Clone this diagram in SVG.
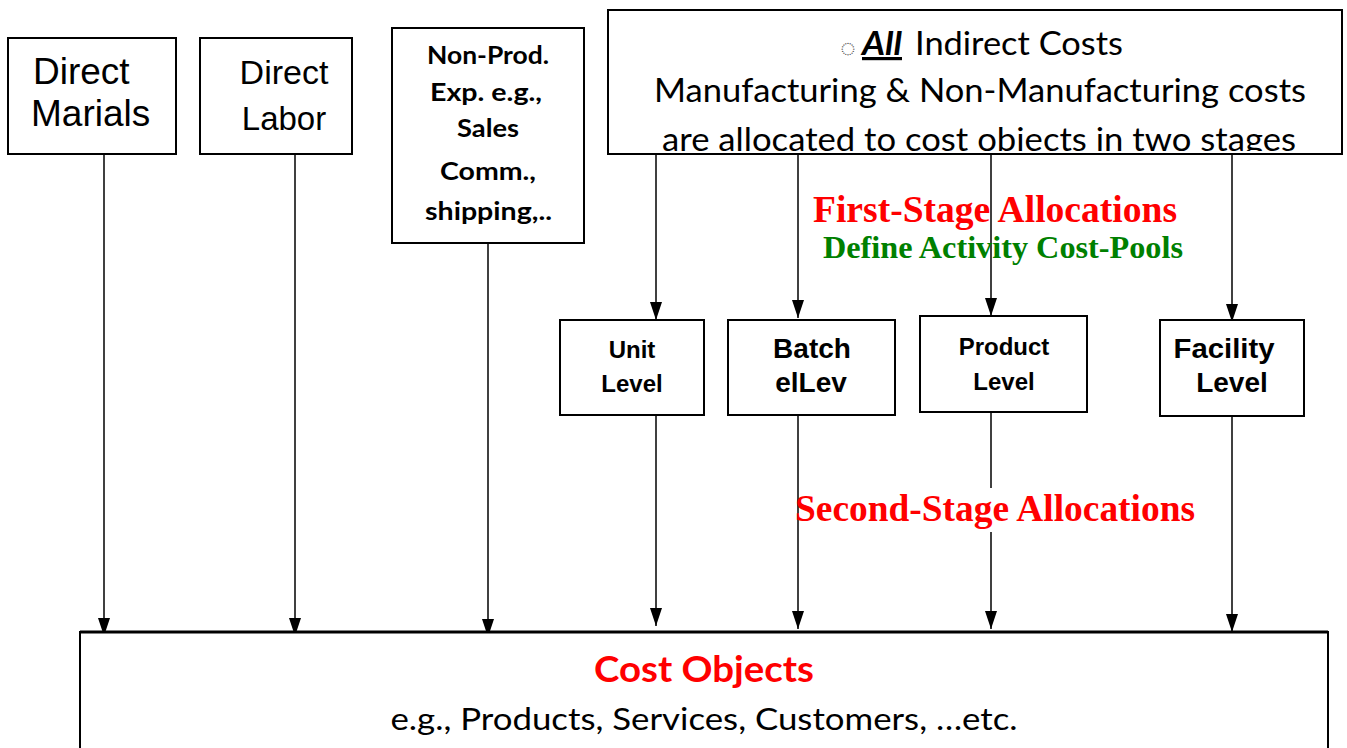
<svg xmlns="http://www.w3.org/2000/svg" width="1347" height="748" viewBox="0 0 1347 748">
<style>
.box{fill:#fff;stroke:#000;stroke-width:2}
.ar{font-family:"Liberation Sans",Arial,sans-serif}
.arb{font-family:"Liberation Sans",Arial,sans-serif;font-weight:bold}
.cal{font-family:Lato,"Open Sans",sans-serif}
.tnr{font-family:"Liberation Serif","Times New Roman",serif;font-weight:bold}
.ln{stroke:#000;stroke-width:1.5}
</style>
<defs>
<marker id="a2" markerWidth="12" markerHeight="18" refX="6" refY="18" markerUnits="userSpaceOnUse" viewBox="0 0 12 18">
<path d="M0,0 L12,0 L6,18 Z" fill="#000"/>
</marker>
<clipPath id="topclip"><rect x="608" y="10" width="734" height="141"/></clipPath>
</defs>
<rect width="1347" height="748" fill="#fff"/>

<g id="connectors">
<line class="ln" x1="104" y1="154" x2="104" y2="636" marker-end="url(#a2)"/>
<line class="ln" x1="295" y1="154" x2="295" y2="636" marker-end="url(#a2)"/>
<line class="ln" x1="488" y1="243" x2="488" y2="637" marker-end="url(#a2)"/>
<line class="ln" x1="656" y1="154" x2="656" y2="320" marker-end="url(#a2)"/>
<line class="ln" x1="798" y1="148" x2="798" y2="318" marker-end="url(#a2)"/>
<line class="ln" x1="991" y1="148" x2="991" y2="316" marker-end="url(#a2)"/>
<line class="ln" x1="1232" y1="154" x2="1232" y2="322" marker-end="url(#a2)"/>
<line class="ln" x1="656" y1="415" x2="656" y2="626" marker-end="url(#a2)"/>
<line class="ln" x1="798" y1="415" x2="798" y2="629" marker-end="url(#a2)"/>
<line class="ln" x1="991" y1="412" x2="991" y2="488"/>
<line class="ln" x1="991" y1="532" x2="991" y2="629" marker-end="url(#a2)"/>
<line class="ln" x1="1232" y1="416" x2="1232" y2="632" marker-end="url(#a2)"/>
</g>

<g id="direct-materials">
<rect class="box" x="8" y="38" width="168" height="116"/>
<text class="ar" x="33" y="84" font-size="37" fill="#000">Direct</text>
<text class="ar" x="31" y="126" font-size="37" fill="#000">Marials</text>
</g>

<g id="direct-labor">
<rect class="box" x="200" y="38" width="152" height="116"/>
<text class="ar" x="284" y="84" font-size="34" text-anchor="middle" fill="#000">Direct</text>
<text class="ar" x="284" y="130" font-size="33" text-anchor="middle" fill="#000">Labor</text>
</g>

<g id="non-prod">
<rect class="box" x="392" y="28" width="192" height="215"/>
<g class="cal" font-weight="bold" font-size="24" fill="#000">
<text x="427" y="64" textLength="122" lengthAdjust="spacingAndGlyphs">Non-Prod.</text>
<text x="430" y="101" textLength="112" lengthAdjust="spacingAndGlyphs">Exp. e.g.,</text>
<text x="457" y="137" textLength="62" lengthAdjust="spacingAndGlyphs">Sales</text>
<text x="440" y="180" textLength="96" lengthAdjust="spacingAndGlyphs">Comm.,</text>
<text x="425" y="220" textLength="127" lengthAdjust="spacingAndGlyphs">shipping,..</text>
</g>
</g>

<g id="indirect-costs">
<rect class="box" x="608" y="10" width="734" height="144"/>
<g clip-path="url(#topclip)" class="cal" font-size="32" fill="#000">
<text x="840" y="57" font-size="24" fill="#555">◌</text>
<text x="862" y="55" font-weight="bold" font-style="italic" text-decoration="underline" textLength="40" lengthAdjust="spacingAndGlyphs">All</text>
<text x="915" y="55" textLength="208" lengthAdjust="spacingAndGlyphs">Indirect Costs</text>
<text x="980" y="102" text-anchor="middle" textLength="652" lengthAdjust="spacingAndGlyphs">Manufacturing &amp; Non-Manufacturing costs</text>
<text x="979" y="151" text-anchor="middle" textLength="634" lengthAdjust="spacingAndGlyphs">are allocated to cost objects in two stages</text>
</g>
</g>

<g id="first-stage-label">
<text class="tnr" x="995" y="222" font-size="37" fill="#ff0000" text-anchor="middle" textLength="364" lengthAdjust="spacingAndGlyphs">First-Stage Allocations</text>
<text class="tnr" x="1003" y="258" font-size="31" fill="#008000" text-anchor="middle" textLength="360" lengthAdjust="spacingAndGlyphs">Define Activity Cost-Pools</text>
</g>

<g id="unit-level">
<rect class="box" x="560" y="320" width="144" height="95"/>
<text class="arb" x="632" y="358" font-size="24" text-anchor="middle" fill="#000">Unit</text>
<text class="arb" x="632" y="392" font-size="24" text-anchor="middle" fill="#000">Level</text>
</g>

<g id="batch-level">
<rect class="box" x="728" y="320" width="167" height="95"/>
<text class="arb" x="812" y="358" font-size="28" text-anchor="middle" fill="#000">Batch</text>
<text class="arb" x="811" y="392" font-size="28" text-anchor="middle" fill="#000">elLev</text>
</g>

<g id="product-level">
<rect class="box" x="920" y="316" width="167" height="96"/>
<text class="arb" x="1004" y="355" font-size="24" text-anchor="middle" fill="#000">Product</text>
<text class="arb" x="1004" y="390" font-size="24" text-anchor="middle" fill="#000">Level</text>
</g>

<g id="facility-level">
<rect class="box" x="1160" y="320" width="144" height="96"/>
<text class="arb" x="1224" y="358" font-size="28" text-anchor="middle" fill="#000" textLength="101" lengthAdjust="spacingAndGlyphs">Facility</text>
<text class="arb" x="1232" y="392" font-size="28" text-anchor="middle" fill="#000">Level</text>
</g>

<g id="second-stage-label">
<text class="tnr" x="995" y="521" font-size="37" fill="#ff0000" text-anchor="middle" textLength="400" lengthAdjust="spacingAndGlyphs">Second-Stage Allocations</text>
</g>

<g id="cost-objects">
<rect class="box" x="80" y="632" width="1248" height="130"/>
<line x1="80" y1="632" x2="1328" y2="632" stroke="#000" stroke-width="3"/>
<text class="cal" x="704" y="682" font-size="37" font-weight="bold" fill="#ff0000" text-anchor="middle" textLength="220" lengthAdjust="spacingAndGlyphs">Cost Objects</text>
<text class="cal" x="704" y="730" font-size="30" fill="#000" text-anchor="middle" textLength="627" lengthAdjust="spacingAndGlyphs">e.g., Products, Services, Customers, …etc.</text>
</g>
</svg>
